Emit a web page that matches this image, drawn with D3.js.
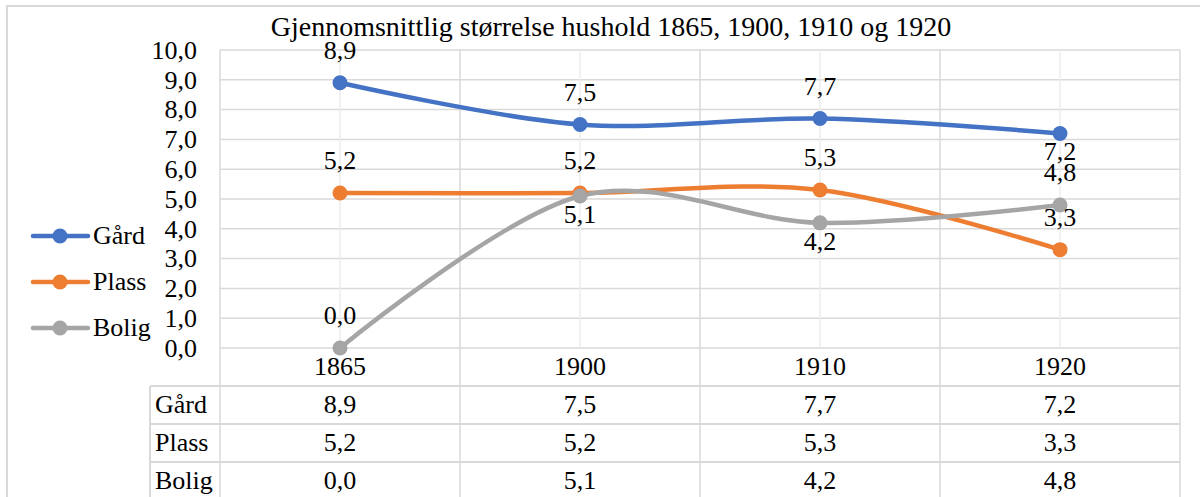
<!DOCTYPE html>
<html>
<head>
<meta charset="utf-8">
<script src="https://cdn.jsdelivr.net/npm/d3@7"></script>
</head>
<body style="margin:0;background:#fff">
<svg width="1200" height="497"></svg>
<script>
// data
let title = 'Gjennomsnittlig størrelse hushold 1865, 1900, 1910 og 1920'
let years = ['1865', '1900', '1910', '1920']
let seriesNames = ['Gård', 'Plass', 'Bolig']
let gard = [8.9, 7.5, 7.7, 7.2]
let plass = [5.2, 5.2, 5.3, 3.3]
let bolig = [0.0, 5.1, 4.2, 4.8]
let yDomain = [0, 10]

let colors = ['#4472C4', '#ED7D31', '#A5A5A5']
// which data labels sit under their point (excel auto placement)
let labelBelow = [[false, false, false, true], [false, false, false, false], [false, true, true, false]]

let series = seriesNames.map((name, i) => ({ name: name, values: [gard, plass, bolig][i], color: colors[i] }))

let nb = d3.formatLocale({ decimal: ',', thousands: ' ', grouping: [3], currency: ['', ' kr'] })
let fmt = nb.format('.1f')

let svg = d3.select('svg')
let font = "'Liberation Serif', 'Times New Roman', serif"
let fs = 26
let grid = '#d9d9d9'

let txt = sel => sel.style('font-family', font).style('font-size', fs + 'px').attr('fill', '#000')

let x = d3.scaleBand().domain(years).range([220, 1180])
let cx = d => x(d) + x.bandwidth() / 2
let y = d3.scaleLinear().domain(yDomain).range([348, 50])

// outer frame, runs off the right and bottom edge
svg.append('rect')
.attr('x', 7).attr('y', 6).attr('width', 1300).attr('height', 600)
.attr('fill', 'none').attr('stroke', grid).attr('stroke-width', 2)

// title
svg.append('text')
.attr('x', 611).attr('y', 36)
.attr('text-anchor', 'middle')
.call(txt)
.style('font-size', '28px')
.text(title)

// horizontal gridlines
let g = svg.append('g')
g.selectAll('line.h')
.data(y.ticks(10)).enter()
.append('line').attr('class', 'h')
.attr('x1', 220).attr('x2', 1180)
.attr('y1', d => y(d)).attr('y2', d => y(d))
.attr('stroke', grid).attr('stroke-width', 1.5)

// vertical gridlines at category centres (plot only)
g.selectAll('line.c')
.data(years).enter()
.append('line').attr('class', 'c')
.attr('x1', cx).attr('x2', cx)
.attr('y1', y(10)).attr('y2', y(0))
.attr('stroke', '#ececec').attr('stroke-width', 1.5)

// table geometry
let rowH = 38
let headTop = y(0)
let tableBottom = headTop + rowH * (series.length + 1)
let bounds = years.map(d => x(d)).concat([x.range()[1]])

// band boundaries run through plot and table
g.selectAll('line.b')
.data(bounds).enter()
.append('line').attr('class', 'b')
.attr('x1', d => d).attr('x2', d => d)
.attr('y1', y(10)).attr('y2', tableBottom)
.attr('stroke', grid).attr('stroke-width', 1.5)

// row label column
g.append('line')
.attr('x1', 150).attr('x2', 150)
.attr('y1', headTop + rowH).attr('y2', tableBottom)
.attr('stroke', grid).attr('stroke-width', 2)

g.selectAll('line.r')
.data(d3.range(1, series.length + 1)).enter()
.append('line').attr('class', 'r')
.attr('x1', 150).attr('x2', 1180)
.attr('y1', i => headTop + rowH * i).attr('y2', i => headTop + rowH * i)
.attr('stroke', grid).attr('stroke-width', 2)

// y axis labels
let yAxis = d3.axisLeft(y).ticks(10).tickFormat(fmt).tickSize(0).tickPadding(0)
svg.append('g')
.attr('transform', 'translate(197,0)')
.call(yAxis)
.call(a => a.select('.domain').remove())
.selectAll('text')
.call(txt)
.attr('dy', '0.32em')

// header row (years)
svg.append('g').selectAll('text')
.data(years).enter()
.append('text')
.attr('x', cx).attr('y', headTop + 27)
.attr('text-anchor', 'middle')
.call(txt)
.text(d => d)

// table rows
let rows = svg.append('g').selectAll('g')
.data(series).enter()
.append('g')
.attr('transform', (d, i) => `translate(0,${headTop + rowH * (i + 1)})`)

rows.append('text')
.attr('x', 155).attr('y', 27)
.call(txt)
.text(d => d.name)

rows.selectAll('text.v')
.data(d => d.values).enter()
.append('text').attr('class', 'v')
.attr('x', (d, i) => cx(years[i])).attr('y', 27)
.attr('text-anchor', 'middle')
.call(txt)
.text(d => fmt(d))

// lines
let line = d3.line()
.x((d, i) => cx(years[i]))
.y(d => y(d))
.curve(d3.curveCardinal.tension(0))

svg.append('g')
.selectAll('path')
.data(series).enter()
.append('path')
.attr('fill', 'none')
.attr('stroke', d => d.color)
.attr('stroke-width', 4.5)
.attr('stroke-linecap', 'round')
.attr('d', d => line(d.values))

let pts = svg.append('g').selectAll('g')
.data(series).enter()
.append('g')

pts.selectAll('circle')
.data(d => d.values.map(v => ({ v: v, c: d.color }))).enter()
.append('circle')
.attr('cx', (d, i) => cx(years[i]))
.attr('cy', d => y(d.v))
.attr('r', 7.5)
.attr('fill', d => d.c)

// data labels
let labels = svg.append('g').selectAll('g')
.data(series).enter()
.append('g')

labels.selectAll('text')
.data((d, si) => d.values.map((v, i) => ({ v: v, below: labelBelow[si][i] }))).enter()
.append('text')
.attr('x', (d, i) => cx(years[i]))
.attr('y', d => y(d.v) + (d.below ? 27 : -24))
.attr('text-anchor', 'middle')
.call(txt)
.text(d => fmt(d.v))

// legend
let leg = svg.append('g').selectAll('g')
.data(series).enter()
.append('g')
.attr('transform', (d, i) => `translate(0,${236 + i * 46})`)

leg.append('line')
.attr('x1', 33).attr('x2', 88)
.attr('stroke', d => d.color)
.attr('stroke-width', 4.5)
.attr('stroke-linecap', 'round')

leg.append('circle')
.attr('cx', 60).attr('r', 7.5)
.attr('fill', d => d.color)

leg.append('text')
.attr('x', 93).attr('dy', '0.32em')
.call(txt)
.text(d => d.name)
</script>
</body>
</html>
